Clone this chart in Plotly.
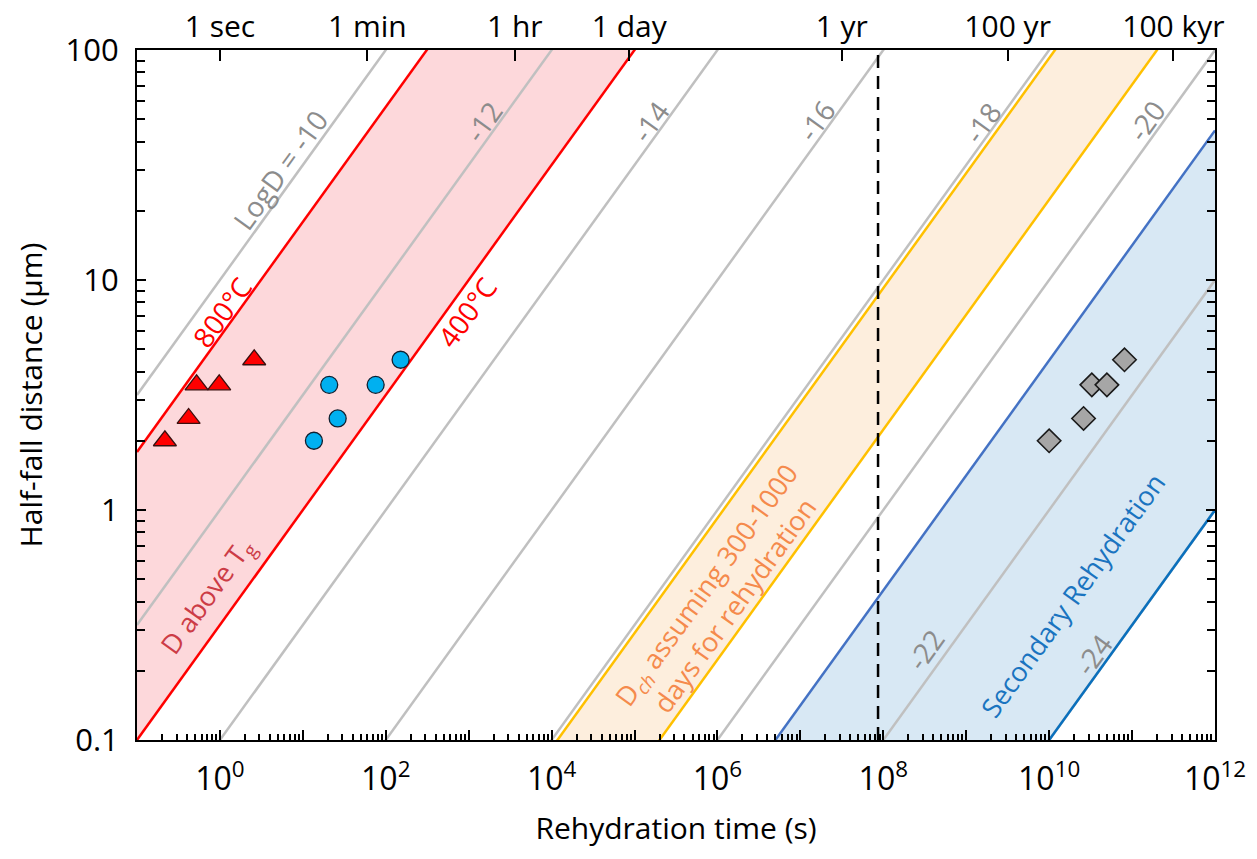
import numpy as np
import plotly.graph_objects as go

# ---------------- data ----------------
t_span = [1e-1, 1e12]                      # s, extent of diffusion lines
grey_logD = [-10, -12, -14, -16, -18, -20, -22, -24]
grey_label_text = ["LogD = -10", "-12", "-14", "-16", "-18", "-20", "-22", "-24"]
red_band_D = [3.2e-11, 1.0e-13]            # 800°C , 400°C  (m^2/s)
orange_band_D = [8.5e-19, 5.0e-20]         # D_ch band
blue_band_D = [2.0e-21, 1.0e-24]           # secondary rehydration
dashed_t = 8.64e7                          # 1000 days (s)

tri_t = [0.217, 0.419, 0.523, 0.98, 2.59]
tri_d = [2.0, 2.5, 3.5, 3.5, 4.5]
circ_t = [13.6, 26.3, 20.8, 75.5, 151]
circ_d = [2.0, 2.5, 3.5, 3.5, 4.5]
dia_t = [1.0e10, 2.6e10, 3.27e10, 4.97e10, 8.1e10]
dia_d = [2.0, 2.5, 3.5, 3.5, 4.5]

top_tick_s = [1, 60, 3600, 86400, 3.156e7, 3.156e9, 3.156e11]
top_tick_text = ["1 sec", "1 min", "1 hr", "1 day", "1 yr", "100 yr", "100 kyr"]

x_exp = list(range(-1, 13))
y_tick_vals = [0.1, 1, 10, 100]
y_tick_text = ["0.1", "1", "10", "100"]

FONT = "Open Sans"

def d_um(D, t):
    return 1e6 * np.sqrt(D * np.asarray(t, dtype=float))

t_arr = np.array(t_span)
fig = go.Figure()

def band(Dhi, Dlo, fill):
    xs = list(t_arr) + list(t_arr[::-1])
    ys = list(d_um(Dhi, t_arr)) + list(d_um(Dlo, t_arr[::-1]))
    fig.add_trace(go.Scatter(x=xs, y=ys, mode="lines", fill="toself",
                             fillcolor=fill, line=dict(width=0),
                             hoverinfo="skip", showlegend=False))

band(red_band_D[0], red_band_D[1], "#fdd8db")
band(orange_band_D[0], orange_band_D[1], "#fdeedd")
band(blue_band_D[0], blue_band_D[1], "#d8e8f4")

for lg in grey_logD:
    fig.add_trace(go.Scatter(x=t_arr, y=d_um(10.0**lg, t_arr), mode="lines",
                             line=dict(color="#c0c0c0", width=2.5),
                             hoverinfo="skip", showlegend=False))

def edge(D, color):
    fig.add_trace(go.Scatter(x=t_arr, y=d_um(D, t_arr), mode="lines",
                             line=dict(color=color, width=2.5),
                             hoverinfo="skip", showlegend=False))

edge(red_band_D[0], "#ff0000")
edge(red_band_D[1], "#ff0000")
edge(orange_band_D[0], "#ffc000")
edge(orange_band_D[1], "#ffc000")
edge(blue_band_D[0], "#4472c4")
edge(blue_band_D[1], "#0a70bd")

fig.add_trace(go.Scatter(x=[dashed_t, dashed_t], y=[0.1, 100], mode="lines",
                         line=dict(color="black", width=2.5, dash="13px,8px"),
                         hoverinfo="skip", showlegend=False))

fig.add_trace(go.Scatter(x=tri_t, y=tri_d, mode="markers",
                         marker=dict(symbol="triangle-up", size=20, color="#ff0000",
                                     line=dict(color="#3a1010", width=1.3)),
                         showlegend=False))
fig.add_trace(go.Scatter(x=circ_t, y=circ_d, mode="markers",
                         marker=dict(symbol="circle", size=17, color="#00b0f0",
                                     line=dict(color="#102030", width=1.3)),
                         showlegend=False))
fig.add_trace(go.Scatter(x=dia_t, y=dia_d, mode="markers",
                         marker=dict(symbol="diamond", size=18, color="#a6a6a6",
                                     line=dict(color="#1a1a1a", width=1.6)),
                         showlegend=False))

# invisible trace to anchor top axis
fig.add_trace(go.Scatter(x=top_tick_s, y=[1] * len(top_tick_s), xaxis="x2",
                         mode="markers", marker=dict(opacity=0),
                         hoverinfo="skip", showlegend=False))

# ---------- axes ----------
x_minor = [k * 10.0**e for e in range(-1, 12) for k in range(2, 10)]
y_minor = [k * 10.0**e for e in range(-1, 2) for k in range(2, 10)]

fig.update_layout(
    width=1257, height=859,
    margin=dict(l=137, r=42, t=50, b=119, autoexpand=False),
    paper_bgcolor="white", plot_bgcolor="white",
    font=dict(family=FONT, size=32, color="black"),
    showlegend=False,
    xaxis=dict(type="log", range=[-1, 12], showgrid=False, zeroline=False,
               automargin=False,
               showline=True, linecolor="black", linewidth=2, mirror=True,
               ticks="inside", ticklen=10, tickwidth=1.5, tickcolor="black",
               tickmode="array", tickvals=[10.0**e for e in x_exp],
               ticktext=[("10<sup>%d</sup>" % e) if e % 2 == 0 else "" for e in x_exp],
               ticklabelstandoff=10, tickfont=dict(size=32),
               minor=dict(ticks="inside", ticklen=6, tickwidth=1.5, tickcolor="black",
                          tickmode="array", tickvals=x_minor, showgrid=False),
               title=dict(text="Rehydration time (s)", standoff=20,
                          font=dict(size=30))),
    xaxis2=dict(type="log", range=[-1, 12], overlaying="x", side="top",
                automargin=False,
                showgrid=False, zeroline=False, showline=False,
                ticks="inside", ticklen=11, tickwidth=1.5, tickcolor="black",
                tickmode="array", tickvals=top_tick_s, ticktext=top_tick_text,
                ticklabelstandoff=6, tickfont=dict(size=30)),
    yaxis=dict(type="log", range=[-1, 2], showgrid=False, zeroline=False,
               automargin=False,
               showline=True, linecolor="black", linewidth=2, mirror="ticks",
               ticks="inside", ticklen=9, tickwidth=1.5, tickcolor="black",
               tickmode="array", tickvals=y_tick_vals, ticktext=y_tick_text,
               ticklabelstandoff=10, tickfont=dict(size=31),
               minor=dict(ticks="inside", ticklen=8, tickwidth=1.5, tickcolor="black",
                          tickmode="array", tickvals=y_minor, showgrid=False),
               title=dict(text="Half-fall distance (µm)", standoff=14,
                          font=dict(size=30))),
)

# ---------- rotated labels ----------
def px2x(px):
    return -1 + (px - 137) / 1078 * 13

def px2y(py):
    return -1 + (740 - py) / 690 * 3

ANG = -54.2
grey_label_px = [(280, 170), (483, 122), (650, 122), (816, 121), (982, 123),
                 (1146, 121), (925, 650), (1093, 655)]
for txt, (px, py) in zip(grey_label_text, grey_label_px):
    fig.add_annotation(x=px2x(px), y=px2y(py), text=txt, showarrow=False,
                       textangle=ANG, font=dict(size=28, color="#8c8c8c", family=FONT))

other_labels = [
    ("800°C", (222, 312), "#ff0000", 28),
    ("400°C", (467, 312), "#ff0000", 28),
    ("D above T<sub>g</sub>", (207, 597), "#cc3c46", 27),
    ("D<sub><i>ch</i></sub> assuming 300-1000<br>days for rehydration", (720, 595), "#f58a4c", 27),
    ("Secondary Rehydration", (1072, 595), "#1a74c0", 27),
]
for txt, (px, py), col, fs in other_labels:
    fig.add_annotation(x=px2x(px), y=px2y(py), text=txt, showarrow=False,
                       textangle=ANG, font=dict(size=fs, color=col, family=FONT))

fig.write_html("out.html")
